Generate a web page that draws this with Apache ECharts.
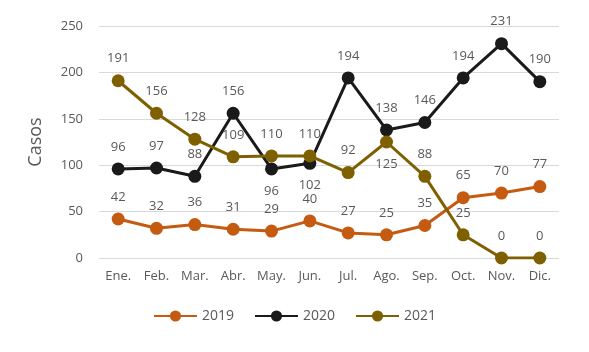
<!DOCTYPE html>
<html>
<head>
<meta charset="utf-8">
<script src="https://cdn.jsdelivr.net/npm/echarts@6/dist/echarts.min.js"></script>
<style>
  html, body { margin: 0; padding: 0; background: #fff; }
  #chart { width: 589px; height: 352px; }
</style>
</head>
<body>
<div id="chart"></div>
<script>
// datos
const meses = ['Ene.', 'Feb.', 'Mar.', 'Abr.', 'May.', 'Jun.', 'Jul.', 'Ago.', 'Sep.', 'Oct.', 'Nov.', 'Dic.'];
const casos2019 = [42, 32, 36, 31, 29, 40, 27, 25, 35, 65, 70, 77];
const casos2020 = [96, 97, 88, 156, 96, 102, 194, 138, 146, 194, 231, 190];
const casos2021 = [191, 156, 128, 109, 110, 110, 92, 125, 88, 25, 0, 0];
// indices con la etiqueta debajo del punto
const abajo2020 = [4, 5];
const abajo2021 = [7];

const fuente = "'Open Sans', 'Noto Sans', sans-serif";

function serie(nombre, valores, color, abajo){
    let data = valores.map(function(v, i){
        if (abajo.indexOf(i) >= 0)
            return {value: v, label: {position: 'bottom'}};
        return v;
    });
    return {
        name: nombre,
        type: 'line',
        data: data,
        symbol: 'circle',
        symbolSize: 13,
        lineStyle: {width: 3, color: color},
        itemStyle: {color: color},
        label: {
            show: true,
            position: 'top',
            distance: 9,
            color: '#595959',
            fontSize: 13,
            fontFamily: fuente
        },
        animation: false
    };
}

let option = {
    grid: {left: 99, right: 30, top: 26, bottom: 94},
    legend: {
        bottom: 24,
        left: 'center',
        itemWidth: 43,
        itemHeight: 14,
        itemGap: 20,
        textStyle: {color: '#595959', fontSize: 14, fontFamily: fuente},
        data: ['2019', '2020', '2021']
    },
    xAxis: {
        type: 'category',
        data: meses,
        axisLine: {show: false},
        axisTick: {show: false},
        axisLabel: {color: '#595959', fontSize: 13, fontFamily: fuente, margin: 12}
    },
    yAxis: {
        type: 'value',
        min: 0,
        max: 250,
        interval: 50,
        name: 'Casos',
        nameLocation: 'middle',
        nameGap: 54,
        nameTextStyle: {color: '#595959', fontSize: 18, fontFamily: fuente},
        axisLabel: {color: '#595959', fontSize: 13, fontFamily: fuente, margin: 16},
        splitLine: {lineStyle: {color: '#d9d9d9', width: 1}}
    },
    series: [
        serie('2019', casos2019, '#c55a11', []),
        serie('2020', casos2020, '#1a1a1a', abajo2020),
        serie('2021', casos2021, '#7f6000', abajo2021)
    ]
};

let chart = echarts.init(document.getElementById('chart'));
chart.setOption(option);
</script>
</body>
</html>
